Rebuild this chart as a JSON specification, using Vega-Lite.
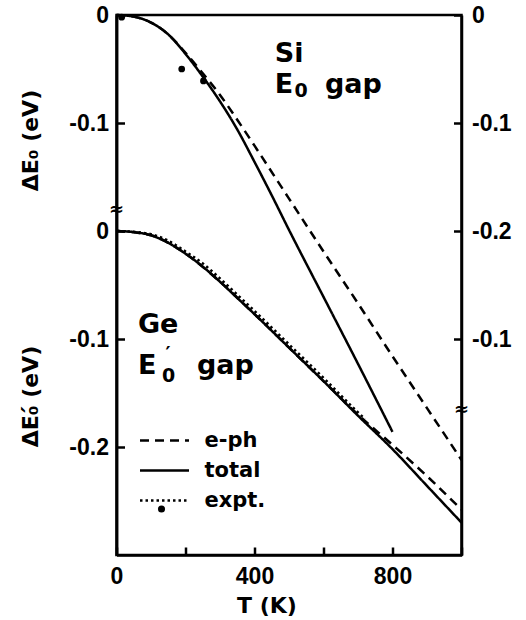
{
  "$schema": "https://vega.github.io/schema/vega-lite/v6.json",
  "width": 345,
  "height": 540,
  "autosize": "none",
  "padding": {"left": 116.5, "top": 15, "right": 64.5, "bottom": 65},
  "background": "white",
  "config": {
    "view": {"stroke": "black", "strokeWidth": 2.5},
    "axis": {
      "grid": false,
      "domainColor": "black", "domainWidth": 2.5,
      "tickColor": "black", "tickWidth": 2.5, "tickSize": -8,
      "labelFont": "Liberation Sans", "labelFontWeight": "bold", "labelFontSize": 23, "labelColor": "black",
      "titleFont": "DejaVu Sans", "titleFontWeight": "bold", "titleFontSize": 22, "titleColor": "black",
      "labelFlush": false, "labelOverlap": false
    },
    "legend": {"padding": 0, "offset": 0},
    "text": {"font": "DejaVu Sans", "fontWeight": "bold", "fontSize": 27, "align": "left", "baseline": "alphabetic", "color": "black"}
  },
  "datasets": {
    "si": [
      {"T": 0, "dE": 0, "curve": "total"},
      {"T": 50, "dE": -0.0015, "curve": "total"},
      {"T": 100, "dE": -0.007, "curve": "total"},
      {"T": 150, "dE": -0.018, "curve": "total"},
      {"T": 200, "dE": -0.036, "curve": "total"},
      {"T": 250, "dE": -0.057, "curve": "total"},
      {"T": 300, "dE": -0.080, "curve": "total"},
      {"T": 350, "dE": -0.106, "curve": "total"},
      {"T": 400, "dE": -0.136, "curve": "total"},
      {"T": 450, "dE": -0.167, "curve": "total"},
      {"T": 500, "dE": -0.199, "curve": "total"},
      {"T": 600, "dE": -0.261, "curve": "total"},
      {"T": 700, "dE": -0.323, "curve": "total"},
      {"T": 800, "dE": -0.386, "curve": "total"},
      {"T": 0, "dE": 0, "curve": "e-ph"},
      {"T": 50, "dE": -0.0015, "curve": "e-ph"},
      {"T": 100, "dE": -0.007, "curve": "e-ph"},
      {"T": 150, "dE": -0.018, "curve": "e-ph"},
      {"T": 200, "dE": -0.035, "curve": "e-ph"},
      {"T": 250, "dE": -0.054, "curve": "e-ph"},
      {"T": 300, "dE": -0.074, "curve": "e-ph"},
      {"T": 350, "dE": -0.097, "curve": "e-ph"},
      {"T": 400, "dE": -0.121, "curve": "e-ph"},
      {"T": 500, "dE": -0.170, "curve": "e-ph"},
      {"T": 600, "dE": -0.219, "curve": "e-ph"},
      {"T": 700, "dE": -0.267, "curve": "e-ph"},
      {"T": 800, "dE": -0.316, "curve": "e-ph"},
      {"T": 900, "dE": -0.364, "curve": "e-ph"},
      {"T": 1000, "dE": -0.412, "curve": "e-ph"}
    ],
    "siexpt": [
      {"T": 15, "dE": -0.002},
      {"T": 189, "dE": -0.050},
      {"T": 252, "dE": -0.061}
    ],
    "ge": [
      {"T": 0, "dE": 0, "curve": "total"},
      {"T": 50, "dE": -0.001, "curve": "total"},
      {"T": 100, "dE": -0.004, "curve": "total"},
      {"T": 150, "dE": -0.011, "curve": "total"},
      {"T": 200, "dE": -0.021, "curve": "total"},
      {"T": 250, "dE": -0.033, "curve": "total"},
      {"T": 300, "dE": -0.047, "curve": "total"},
      {"T": 350, "dE": -0.062, "curve": "total"},
      {"T": 400, "dE": -0.077, "curve": "total"},
      {"T": 500, "dE": -0.108, "curve": "total"},
      {"T": 600, "dE": -0.139, "curve": "total"},
      {"T": 700, "dE": -0.171, "curve": "total"},
      {"T": 800, "dE": -0.202, "curve": "total"},
      {"T": 900, "dE": -0.236, "curve": "total"},
      {"T": 1000, "dE": -0.270, "curve": "total"},
      {"T": 0, "dE": 0, "curve": "e-ph"},
      {"T": 100, "dE": -0.004, "curve": "e-ph"},
      {"T": 200, "dE": -0.021, "curve": "e-ph"},
      {"T": 300, "dE": -0.047, "curve": "e-ph"},
      {"T": 400, "dE": -0.077, "curve": "e-ph"},
      {"T": 500, "dE": -0.108, "curve": "e-ph"},
      {"T": 600, "dE": -0.139, "curve": "e-ph"},
      {"T": 700, "dE": -0.170, "curve": "e-ph"},
      {"T": 800, "dE": -0.198, "curve": "e-ph"},
      {"T": 900, "dE": -0.227, "curve": "e-ph"},
      {"T": 1000, "dE": -0.258, "curve": "e-ph"},
      {"T": 0, "dE": 0, "curve": "expt."},
      {"T": 50, "dE": -0.0008, "curve": "expt."},
      {"T": 100, "dE": -0.003, "curve": "expt."},
      {"T": 150, "dE": -0.009, "curve": "expt."},
      {"T": 200, "dE": -0.019, "curve": "expt."},
      {"T": 250, "dE": -0.030, "curve": "expt."},
      {"T": 300, "dE": -0.044, "curve": "expt."},
      {"T": 350, "dE": -0.059, "curve": "expt."},
      {"T": 400, "dE": -0.074, "curve": "expt."},
      {"T": 500, "dE": -0.105, "curve": "expt."},
      {"T": 600, "dE": -0.136, "curve": "expt."},
      {"T": 700, "dE": -0.168, "curve": "expt."},
      {"T": 720, "dE": -0.174, "curve": "expt."}
    ]
  },
  "layer": [
    {
      "layer": [
        {
          "data": {"name": "si"},
          "mark": {"type": "line", "color": "black", "strokeWidth": 2.5, "interpolate": "monotone"},
          "encoding": {
            "x": {
              "field": "T", "type": "quantitative",
              "scale": {"domain": [0, 1000], "nice": false},
              "axis": {
                "values": [0, 100, 200, 300, 400, 500, 600, 700, 800, 900, 1000],
                "labelExpr": "datum.value == 0 || datum.value == 400 || datum.value == 800 ? datum.label : ''",
                "labelPadding": 18,
                "title": "T (K)",
                "titleX": 150, "titleY": 50, "titleAlign": "center", "titleBaseline": "middle"
              }
            },
            "y": {
              "field": "dE", "type": "quantitative",
              "scale": {"domain": [-0.5, 0], "nice": false, "zero": false},
              "axis": {
                "orient": "left",
                "values": [0, -0.1],
                "labelExpr": "datum.value == 0 ? '0' : '-0.1'",
                "labelPadding": 16,
                "title": "ΔE₀ (eV)",
                "titleX": -86, "titleY": 125, "titleAngle": 270, "titleAlign": "center", "titleBaseline": "middle"
              }
            },
            "strokeDash": {
              "field": "curve", "type": "nominal",
              "scale": {"domain": ["e-ph", "total", "expt."], "range": [[9, 6], [1, 0], [2.5, 3]]},
              "legend": {
                "orient": "none", "legendX": 22, "legendY": 411, "title": null,
                "symbolType": "stroke", "symbolSize": 2401, "symbolStrokeColor": "black", "symbolStrokeWidth": 2.5,
                "labelFont": "DejaVu Sans", "labelFontWeight": "bold", "labelFontSize": 21, "labelColor": "black",
                "labelOffset": 14, "rowPadding": 1, "clipHeight": 29
              }
            }
          }
        },
        {
          "data": {"name": "siexpt"},
          "mark": {"type": "point", "filled": true, "color": "black", "size": 45, "opacity": 1},
          "encoding": {
            "x": {"field": "T", "type": "quantitative"},
            "y": {"field": "dE", "type": "quantitative"},
            "shape": {
              "datum": "expt.",
              "scale": {"range": ["circle"]},
              "legend": {
                "orient": "none", "legendX": 40, "legendY": 489, "title": null,
                "symbolSize": 50, "symbolFillColor": "black", "symbolStrokeColor": "black",
                "labelExpr": "''"
              }
            }
          }
        },
        {
          "data": {"values": [{}]},
          "mark": {"type": "text"},
          "encoding": {"x": {"datum": 459}, "y": {"datum": -0.0435}, "text": {"value": "Si"}}
        },
        {
          "data": {"values": [{}]},
          "mark": {"type": "text"},
          "encoding": {"x": {"datum": 459}, "y": {"datum": -0.0722}, "text": {"value": "E"}}
        },
        {
          "data": {"values": [{}]},
          "mark": {"type": "text", "fontSize": 19},
          "encoding": {"x": {"datum": 516}, "y": {"datum": -0.0759}, "text": {"value": "0"}}
        },
        {
          "data": {"values": [{}]},
          "mark": {"type": "text"},
          "encoding": {"x": {"datum": 604}, "y": {"datum": -0.0722}, "text": {"value": "gap"}}
        },
        {
          "data": {"values": [{}]},
          "mark": {"type": "text", "fontSize": 18, "align": "center", "baseline": "middle"},
          "encoding": {"x": {"datum": 0}, "y": {"datum": -0.181}, "text": {"value": "≈"}}
        },
        {
          "data": {"values": [{}]},
          "mark": {"type": "text", "fontSize": 18, "align": "center", "baseline": "middle"},
          "encoding": {"x": {"datum": 1000}, "y": {"datum": -0.366}, "text": {"value": "≈"}}
        }
      ]
    },
    {
      "layer": [
        {
          "data": {"name": "ge"},
          "mark": {"type": "line", "color": "black", "strokeWidth": 2.5, "interpolate": "monotone"},
          "encoding": {
            "x": {"field": "T", "type": "quantitative"},
            "y": {
              "field": "dE", "type": "quantitative",
              "scale": {"domain": [-0.3, 0.2], "nice": false, "zero": false},
              "axis": {
                "orient": "left",
                "values": [0, -0.1, -0.2],
                "labelExpr": "datum.value == 0 ? '0' : datum.value > -0.15 ? '-0.1' : '-0.2'",
                "labelPadding": 16,
                "title": "ΔE₀́ (eV)",
                "titleX": -86, "titleY": 381, "titleAngle": 270, "titleAlign": "center", "titleBaseline": "middle"
              }
            },
            "strokeDash": {"field": "curve", "type": "nominal"}
          }
        },
        {
          "data": {"values": [{}]},
          "mark": {"type": "text"},
          "encoding": {"x": {"datum": 62}, "y": {"datum": -0.0944}, "text": {"value": "Ge"}}
        },
        {
          "data": {"values": [{}]},
          "mark": {"type": "text"},
          "encoding": {"x": {"datum": 62}, "y": {"datum": -0.1324}, "text": {"value": "E"}}
        },
        {
          "data": {"values": [{}]},
          "mark": {"type": "text", "fontSize": 19},
          "encoding": {"x": {"datum": 132}, "y": {"datum": -0.1398}, "text": {"value": "0"}}
        },
        {
          "data": {"values": [{}]},
          "mark": {"type": "text", "fontSize": 19, "align": "center", "baseline": "bottom"},
          "encoding": {"x": {"datum": 149}, "y": {"datum": -0.1231}, "text": {"value": "′"}}
        },
        {
          "data": {"values": [{}]},
          "mark": {"type": "text"},
          "encoding": {"x": {"datum": 233}, "y": {"datum": -0.1324}, "text": {"value": "gap"}}
        }
      ]
    },
    {
      "data": {"values": [{}]},
      "mark": {"type": "point", "opacity": 0},
      "encoding": {
        "x": {"datum": 1000},
        "y": {
          "datum": 0, "type": "quantitative",
          "scale": {"domain": [-0.5, 0], "nice": false, "zero": false},
          "axis": {
            "orient": "right",
            "values": [0, -0.1, -0.2, -0.3],
            "labelExpr": "datum.value == 0 ? '0' : datum.value > -0.15 ? '-0.1' : datum.value > -0.25 ? '-0.2' : '-0.1'",
            "labelPadding": 18,
            "title": null
          }
        }
      }
    }
  ],
  "resolve": {"scale": {"y": "independent"}}
}
